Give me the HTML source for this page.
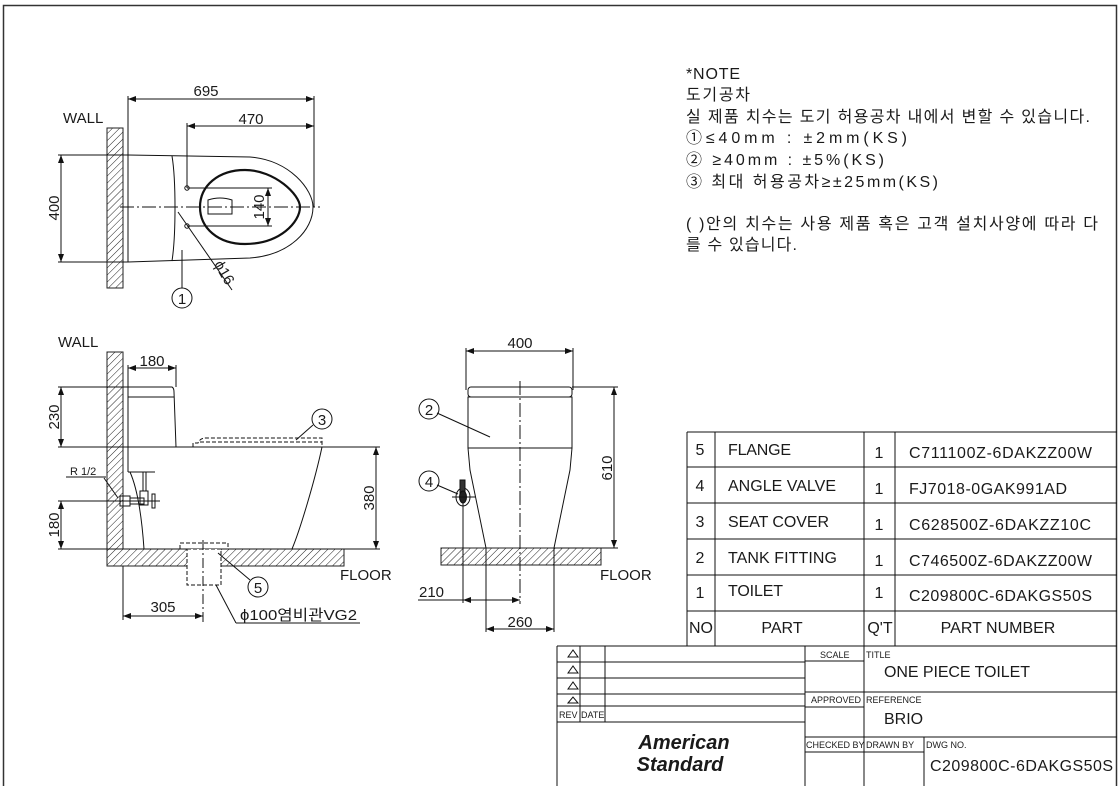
<!DOCTYPE html>
<html><head><meta charset="utf-8"><style>
html,body{margin:0;padding:0;background:#fff;}
svg{display:block;}
text{font-family:"Liberation Sans","Noto Sans CJK KR",sans-serif;fill:#1a1a1a;}
</style></head><body>
<svg width="1119" height="786" viewBox="0 0 1119 786" xmlns="http://www.w3.org/2000/svg">
<defs>
<pattern id="h" width="5" height="5" patternUnits="userSpaceOnUse" patternTransform="rotate(45)">
<rect width="5" height="5" fill="#fff"/><line x1="0" y1="0" x2="0" y2="5" stroke="#222" stroke-width="1"/>
</pattern>
<marker id="a" markerWidth="8" markerHeight="6" refX="8" refY="3" orient="auto-start-reverse" markerUnits="userSpaceOnUse">
<path d="M0,0 L8,3 L0,6 z" fill="#111"/></marker>
</defs>
<rect x="3.5" y="5.5" width="1113" height="790" fill="none" stroke="#333" stroke-width="1.5"/>

<g stroke="#111" stroke-width="1" fill="none">
<!-- PLAN VIEW -->
<rect x="107" y="128" width="16" height="160" fill="url(#h)" stroke="#222"/>
<line x1="128" y1="96" x2="128" y2="155"/>
<line x1="314" y1="96" x2="314" y2="207"/>
<line x1="128" y1="99" x2="314" y2="99" marker-start="url(#a)" marker-end="url(#a)"/>
<line x1="187" y1="123" x2="187" y2="188"/>
<line x1="187" y1="126" x2="314" y2="126" marker-start="url(#a)" marker-end="url(#a)"/>
<line x1="58" y1="155" x2="128" y2="155"/>
<line x1="58" y1="262" x2="128" y2="262"/>
<line x1="61" y1="155" x2="61" y2="262" marker-start="url(#a)" marker-end="url(#a)"/>
<line x1="128" y1="155" x2="128" y2="262"/>
<path d="M128,155 L250,157 C290,160 313,190 313,207 C313,230 290,255 250,258 L128,262"/>
<path d="M172,156 C176,180 176,235 172,261"/>
<path d="M245,170 C275,170 300,195 300,207 C300,222 280,244 245,244 C218,244 200,228 200,207 C200,186 218,170 245,170 Z" stroke-width="2.2"/>
<path d="M208,200 Q220,196 232,200 L232,214 L208,214 Z"/>
<line x1="120" y1="207" x2="320" y2="207" stroke-dasharray="14,3,2,3"/>
<line x1="187" y1="188" x2="272" y2="188"/>
<line x1="187" y1="226" x2="272" y2="226"/>
<line x1="268" y1="188" x2="268" y2="226" marker-start="url(#a)" marker-end="url(#a)"/>
<circle cx="187" cy="188" r="2.2"/><circle cx="187" cy="226" r="2.2"/>
<line x1="178" y1="212" x2="232" y2="290"/>
<line x1="182" y1="250" x2="182" y2="288"/>
<circle cx="182" cy="298" r="10"/>

<!-- SIDE VIEW -->
<path d="M107,352 L123,352 L123,549 L344,549 L344,566 L107,566 Z" fill="url(#h)" stroke="#222"/>
<line x1="128" y1="365" x2="128" y2="472"/>
<line x1="176" y1="365" x2="176" y2="387"/>
<line x1="128" y1="368" x2="176" y2="368" marker-start="url(#a)" marker-end="url(#a)"/>
<path d="M128,387 L172,387 Q174,388 174,392 L176,447"/>
<line x1="128" y1="397" x2="174" y2="397"/>
<line x1="58" y1="387" x2="172" y2="387"/>
<line x1="58" y1="447" x2="380" y2="447"/>
<line x1="61" y1="387" x2="61" y2="447" marker-start="url(#a)" marker-end="url(#a)"/>
<path d="M193,447 L193,443 L198,443 Q200,438 206,438 L322,438 L322,447" stroke-dasharray="4,2"/>
<line x1="200" y1="442" x2="322" y2="442" stroke-dasharray="4,2"/>
<path d="M322,447 C315,480 300,530 292,549"/>
<path d="M128,472 L155,472"/>
<path d="M130,472 C138,490 142,520 144,549"/>
<line x1="376" y1="447" x2="376" y2="549" marker-start="url(#a)" marker-end="url(#a)"/>
<line x1="58" y1="549" x2="380" y2="549"/>
<line x1="58" y1="501" x2="160" y2="501"/>
<line x1="61" y1="501" x2="61" y2="549" marker-start="url(#a)" marker-end="url(#a)"/>
<line x1="66" y1="477" x2="106" y2="477"/>
<line x1="104" y1="478" x2="118" y2="498"/>
<rect x="120" y="496" width="10" height="10"/><rect x="130" y="498" width="14" height="6"/>
<rect x="140" y="491" width="8" height="14"/><line x1="143" y1="472" x2="143" y2="491"/><line x1="146" y1="472" x2="146" y2="491"/>
<line x1="148" y1="501" x2="152" y2="501"/><rect x="152" y="494" width="3" height="14"/>
<rect x="180" y="543" width="48" height="6" stroke-dasharray="4,2"/>
<rect x="187" y="549" width="34" height="36" fill="#fff" stroke-dasharray="4,2"/>
<line x1="203" y1="540" x2="203" y2="625" stroke-dasharray="10,3,2,3"/>
<line x1="123" y1="566" x2="123" y2="620"/>
<line x1="123" y1="616" x2="203" y2="616" marker-start="url(#a)" marker-end="url(#a)"/>
<line x1="216" y1="585" x2="236" y2="623"/><line x1="236" y1="623" x2="360" y2="623"/>
<line x1="218" y1="553" x2="250" y2="580"/>
<circle cx="258" cy="587" r="10"/>
<line x1="296" y1="440" x2="313" y2="425"/>
<circle cx="322" cy="419" r="10"/>

<!-- FRONT VIEW -->
<rect x="441" y="548" width="160" height="17" fill="url(#h)" stroke="#222"/>
<line x1="466" y1="348" x2="466" y2="390"/><line x1="573" y1="348" x2="573" y2="390"/>
<line x1="466" y1="351" x2="573" y2="351" marker-start="url(#a)" marker-end="url(#a)"/>
<rect x="468" y="387" width="104" height="10" rx="3"/>
<rect x="468" y="397" width="104" height="51"/>
<path d="M468,448 L470,470 L486,548"/><path d="M572,448 L570,470 L554,548"/>
<line x1="520" y1="381" x2="520" y2="604" stroke-dasharray="14,3,2,3"/>
<line x1="572" y1="387" x2="618" y2="387"/><line x1="560" y1="548" x2="618" y2="548"/>
<line x1="614" y1="387" x2="614" y2="548" marker-start="url(#a)" marker-end="url(#a)"/>
<line x1="486" y1="548" x2="486" y2="632"/><line x1="554" y1="548" x2="554" y2="632"/>
<line x1="486" y1="629" x2="554" y2="629" marker-start="url(#a)" marker-end="url(#a)"/>
<line x1="463" y1="490" x2="463" y2="603"/>
<line x1="418" y1="600" x2="463" y2="600"/>
<line x1="463" y1="600" x2="520" y2="600" marker-start="url(#a)" marker-end="url(#a)"/>
<ellipse cx="463" cy="497" rx="7" ry="9"/><rect x="460" y="480" width="5" height="14" fill="#333"/>
<ellipse cx="463" cy="497" rx="3.5" ry="6" fill="#222"/>
<line x1="452" y1="497" x2="476" y2="497"/>
<line x1="437" y1="413" x2="490" y2="437"/><circle cx="429" cy="409" r="10"/>
<line x1="437" y1="485" x2="458" y2="494"/><circle cx="429" cy="481" r="10"/>

<!-- PARTS TABLE -->
<line x1="687" y1="432" x2="1117" y2="432"/>
<line x1="687" y1="467" x2="1117" y2="467"/>
<line x1="687" y1="503" x2="1117" y2="503"/>
<line x1="687" y1="539" x2="1117" y2="539"/>
<line x1="687" y1="575" x2="1117" y2="575"/>
<line x1="687" y1="611" x2="1117" y2="611"/>
<line x1="557" y1="646" x2="1117" y2="646"/>
<line x1="687" y1="432" x2="687" y2="646"/>
<line x1="715" y1="432" x2="715" y2="646"/>
<line x1="864" y1="432" x2="864" y2="646"/>
<line x1="895" y1="432" x2="895" y2="646"/>

<!-- TITLE BLOCK -->
<line x1="557" y1="646" x2="557" y2="786"/>
<line x1="580" y1="646" x2="580" y2="722"/>
<line x1="605" y1="646" x2="605" y2="722"/>
<line x1="805" y1="646" x2="805" y2="786"/>
<line x1="864" y1="646" x2="864" y2="786"/>
<line x1="924" y1="737" x2="924" y2="786"/>
<line x1="557" y1="662" x2="805" y2="662"/>
<line x1="557" y1="678" x2="805" y2="678"/>
<line x1="557" y1="694" x2="805" y2="694"/>
<line x1="557" y1="706" x2="805" y2="706"/>
<line x1="557" y1="722" x2="805" y2="722"/>
<line x1="805" y1="661" x2="864" y2="661"/>
<line x1="805" y1="692" x2="1117" y2="692"/>
<line x1="805" y1="707" x2="864" y2="707"/>
<line x1="805" y1="737" x2="1117" y2="737"/>
<line x1="805" y1="752" x2="924" y2="752"/>
<path d="M568,657 L573,650 L578,657 Z M568,673 L573,666 L578,673 Z M568,689 L573,682 L578,689 Z M568,703 L573,697 L578,703 Z"/>
</g>

<!-- TEXT -->
<g font-size="15">
<text x="206" y="96" text-anchor="middle">695</text>
<text x="251" y="124" text-anchor="middle">470</text>
<text x="63" y="123">WALL</text>
<text x="59" y="208" text-anchor="middle" transform="rotate(-90 59 208)">400</text>
<text x="264" y="207" text-anchor="middle" transform="rotate(-90 264 207)">140</text>
<text x="220" y="275" text-anchor="middle" transform="rotate(60 220 275)">ϕ16</text>
<text x="182" y="304" text-anchor="middle">1</text>
<text x="58" y="347">WALL</text>
<text x="152" y="366" text-anchor="middle">180</text>
<text x="59" y="417" text-anchor="middle" transform="rotate(-90 59 417)">230</text>
<text x="59" y="525" text-anchor="middle" transform="rotate(-90 59 525)">180</text>
<text x="374" y="498" text-anchor="middle" transform="rotate(-90 374 498)">380</text>
<text x="322" y="425" text-anchor="middle">3</text>
<text x="258" y="593" text-anchor="middle">5</text>
<text x="340" y="580">FLOOR</text>
<text x="163" y="612" text-anchor="middle">305</text>
<text x="240" y="620" textLength="117" lengthAdjust="spacingAndGlyphs">ϕ100염비관VG2</text>
<text x="520" y="348" text-anchor="middle">400</text>
<text x="612" y="468" text-anchor="middle" transform="rotate(-90 612 468)">610</text>
<text x="429" y="415" text-anchor="middle">2</text>
<text x="429" y="487" text-anchor="middle">4</text>
<text x="600" y="580">FLOOR</text>
<text x="419" y="597">210</text>
<text x="520" y="627" text-anchor="middle">260</text>
</g>
<text x="70" y="475" font-size="11">R 1/2</text>

<g font-size="16" lengthAdjust="spacingAndGlyphs">
<text x="686" y="79" textLength="54">*NOTE</text>
<text x="686" y="100" textLength="64">도기공차</text>
<text x="686" y="122" textLength="404">실 제품 치수는 도기 허용공차 내에서 변할 수 있습니다.</text>
<text x="686" y="143" textLength="221">①≤40mm  :  ±2mm(KS)</text>
<text x="686" y="165" textLength="198">② ≥40mm  :  ±5%(KS)</text>
<text x="686" y="187" textLength="252">③ 최대 허용공차≥±25mm(KS)</text>
<text x="686" y="229" textLength="412">(  )안의 치수는 사용 제품 혹은 고객 설치사양에 따라 다</text>
<text x="686" y="250" textLength="111">를 수 있습니다.</text>
</g>

<g font-size="16">
<text x="700" y="455" text-anchor="middle">5</text><text x="728" y="455" textLength="63">FLANGE</text><text x="879" y="458" text-anchor="middle">1</text><text x="909" y="458" textLength="183">C711100Z-6DAKZZ00W</text>
<text x="700" y="491" text-anchor="middle">4</text><text x="728" y="491" textLength="108">ANGLE VALVE</text><text x="879" y="494" text-anchor="middle">1</text><text x="909" y="494" textLength="158">FJ7018-0GAK991AD</text>
<text x="700" y="527" text-anchor="middle">3</text><text x="728" y="527" textLength="101">SEAT COVER</text><text x="879" y="530" text-anchor="middle">1</text><text x="909" y="530" textLength="182">C628500Z-6DAKZZ10C</text>
<text x="700" y="563" text-anchor="middle">2</text><text x="728" y="563" textLength="109">TANK FITTING</text><text x="879" y="566" text-anchor="middle">1</text><text x="909" y="566" textLength="183">C746500Z-6DAKZZ00W</text>
<text x="700" y="598" text-anchor="middle">1</text><text x="728" y="596" textLength="55">TOILET</text><text x="879" y="598" text-anchor="middle">1</text><text x="909" y="601" textLength="183">C209800C-6DAKGS50S</text>
<text x="701" y="633" text-anchor="middle">NO</text><text x="782" y="633" text-anchor="middle">PART</text><text x="880" y="633" text-anchor="middle">Q'T</text><text x="998" y="633" text-anchor="middle">PART NUMBER</text>
</g>

<g font-size="9">
<text x="820" y="658">SCALE</text>
<text x="866" y="658">TITLE</text>
<text x="811" y="703">APPROVED</text>
<text x="866" y="703">REFERENCE</text>
<text x="559" y="718">REV</text>
<text x="581" y="718">DATE</text>
<text x="806" y="748">CHECKED  BY</text>
<text x="866" y="748">DRAWN  BY</text>
<text x="926" y="748">DWG  NO.</text>
</g>
<text x="884" y="677" font-size="16" textLength="146">ONE PIECE TOILET</text>
<text x="884" y="724" font-size="16">BRIO</text>
<text x="930" y="771" font-size="16" textLength="183">C209800C-6DAKGS50S</text>
<text x="684" y="749" font-size="20" font-style="italic" font-weight="bold" text-anchor="middle" font-family="Liberation Serif, serif">American</text>
<text x="680" y="771" font-size="20" font-style="italic" font-weight="bold" text-anchor="middle" font-family="Liberation Serif, serif">Standard</text>
</svg>
</body></html>
